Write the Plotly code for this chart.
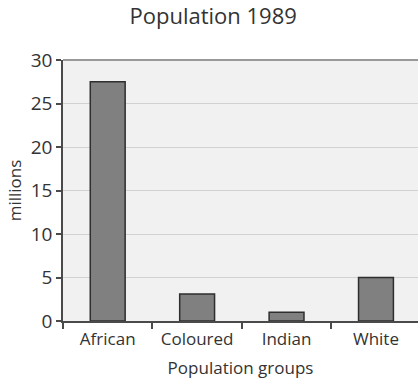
import plotly.graph_objects as go

# Population by group, 1989 (millions)
groups = ["African", "Coloured", "Indian", "White"]
population_millions = [27.5, 3.1, 1.0, 5.0]
y_ticks = [0, 5, 10, 15, 20, 25, 30]

TEXT = "#333333"
AXIS = "#4a4a4a"
FONT = "Open Sans"

fig = go.Figure(
    go.Bar(
        x=groups,
        y=population_millions,
        width=0.39,
        marker=dict(color="#808080", line=dict(color="#2e2e2e", width=1.5)),
        hoverinfo="x+y",
    )
)

fig.update_layout(
    width=418,
    height=381,
    margin=dict(l=63, r=0, t=60, b=60),
    paper_bgcolor="white",
    plot_bgcolor="#f1f1f1",
    showlegend=False,
    font=dict(family=FONT, color=TEXT, size=17),
    title=dict(
        text="Population 1989",
        x=0.51,
        xanchor="center",
        y=0.957,
        yanchor="middle",
        font=dict(family=FONT, size=22, color=TEXT),
    ),
)

fig.update_xaxes(
    range=[-0.5, 3.47],
    tickson="boundaries",
    ticks="outside",
    ticklen=6,
    tickwidth=1.5,
    tickcolor=AXIS,
    showline=True,
    linecolor=AXIS,
    linewidth=1.5,
    showgrid=False,
    ticklabelstandoff=2,
    tickfont=dict(size=17, color=TEXT),
    title=dict(text="Population groups", font=dict(size=17, color=TEXT), standoff=13),
)

fig.update_yaxes(
    range=[0, 30],
    tickvals=y_ticks,
    ticks="outside",
    ticklen=5,
    tickwidth=1.5,
    tickcolor=AXIS,
    showline=True,
    linecolor=AXIS,
    linewidth=1.5,
    showgrid=True,
    gridcolor="#d2d2d2",
    gridwidth=1.2,
    zeroline=False,
    tickfont=dict(size=19, color=TEXT),
    title=dict(text="millions", font=dict(size=17, color=TEXT), standoff=5),
)

# grey frame line along the top of the plotting area
fig.add_shape(
    type="line", xref="paper", yref="paper", x0=0, x1=1, y0=1, y1=1,
    line=dict(color="#999999", width=2),
)

fig.write_html("out.html")
